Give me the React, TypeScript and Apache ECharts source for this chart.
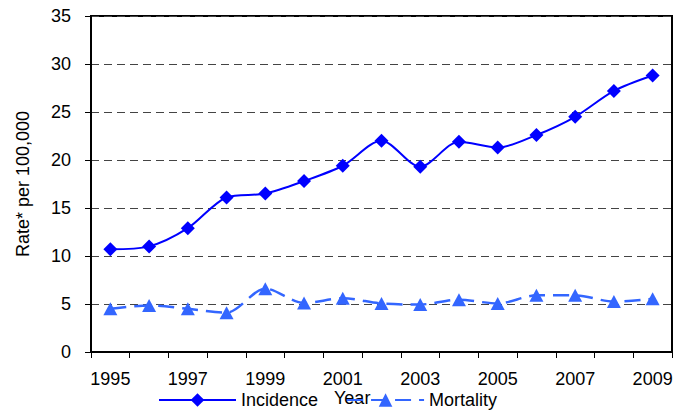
import React, { useEffect, useRef } from "react";
import * as echarts from "echarts";

const years = ["1995","1996","1997","1998","1999","2000","2001","2002","2003","2004","2005","2006","2007","2008","2009"];
const incidence = [10.7, 11.0, 12.9, 16.1, 16.5, 17.8, 19.4, 22.0, 19.3, 21.9, 21.3, 22.6, 24.5, 27.2, 28.8];
const mortality = [4.5, 4.85, 4.5, 4.1, 6.6, 5.1, 5.6, 5.05, 4.95, 5.45, 5.05, 5.9, 5.9, 5.25, 5.55];
const yTitle = "Rate* per 100,000";
const xTitle = "Year";

export default function App() {
  const ref = useRef<HTMLDivElement>(null);
  useEffect(() => {
    if (!ref.current) return;
    const chart = echarts.init(ref.current, null, { renderer: "svg" });
    const font = "Liberation Sans, Arial, sans-serif";
    chart.setOption({
      animation: false,
      backgroundColor: "#fff",
      textStyle: { fontFamily: font },
      grid: { left: 91, right: 19, top: 16, bottom: 60, show: true, borderColor: "#000", borderWidth: 2, backgroundColor: "transparent" },
      legend: {
        left: 158,
        top: 391,
        padding: 0,
        itemWidth: 77,
        itemHeight: 17,
        itemGap: 28,
        textStyle: { fontFamily: font, fontSize: 18, color: "#000", lineHeight: 18 },
        data: ["Incidence", "Mortality"],
      },
      graphic: [
        { type: "text", left: 334, top: 389, z: 0, style: { text: xTitle, font: `18px ${font}`, fill: "#000" } },
      ],
      xAxis: {
        type: "category",
        data: years,
        boundaryGap: true,
        axisLine: { lineStyle: { color: "#000", width: 2 } },
        axisTick: { show: true, interval: 0, length: 6, lineStyle: { color: "#000", width: 1 } },
        axisLabel: { interval: 1, margin: 18, fontSize: 18, color: "#000", fontFamily: font },
        splitLine: { show: false },
      },
      yAxis: {
        type: "value",
        min: 0,
        max: 35,
        interval: 5,
        name: yTitle,
        nameLocation: "middle",
        nameRotate: 90,
        nameGap: 59,
        nameTextStyle: { fontSize: 18, color: "#000", fontFamily: font },
        axisLine: { show: true, lineStyle: { color: "#000", width: 2 } },
        axisTick: { show: true, length: 6, lineStyle: { color: "#000" } },
        axisLabel: { margin: 20, fontSize: 18, color: "#000", fontFamily: font },
        splitLine: { show: true, lineStyle: { color: "#444", type: [8, 5], width: 1 } },
      },
      series: [
        {
          name: "Incidence",
          type: "line",
          data: incidence,
          smooth: 0.3,
          symbol: "diamond",
          symbolSize: 14,
          itemStyle: { color: "#0000FF" },
          lineStyle: { color: "#0000FF", width: 2 },
          z: 3,
        },
        {
          name: "Mortality",
          type: "line",
          data: mortality,
          smooth: 0.3,
          symbol: "triangle",
          symbolSize: [14, 13],
          itemStyle: { color: "#3366FF" },
          lineStyle: { color: "#3366FF", width: 2.5, type: [16, 8] },
          z: 3,
        },
      ],
    });
    return () => chart.dispose();
  }, []);
  return <div ref={ref} style={{ width: 691, height: 412, position: "absolute", left: 0, top: 0 }} />;
}
